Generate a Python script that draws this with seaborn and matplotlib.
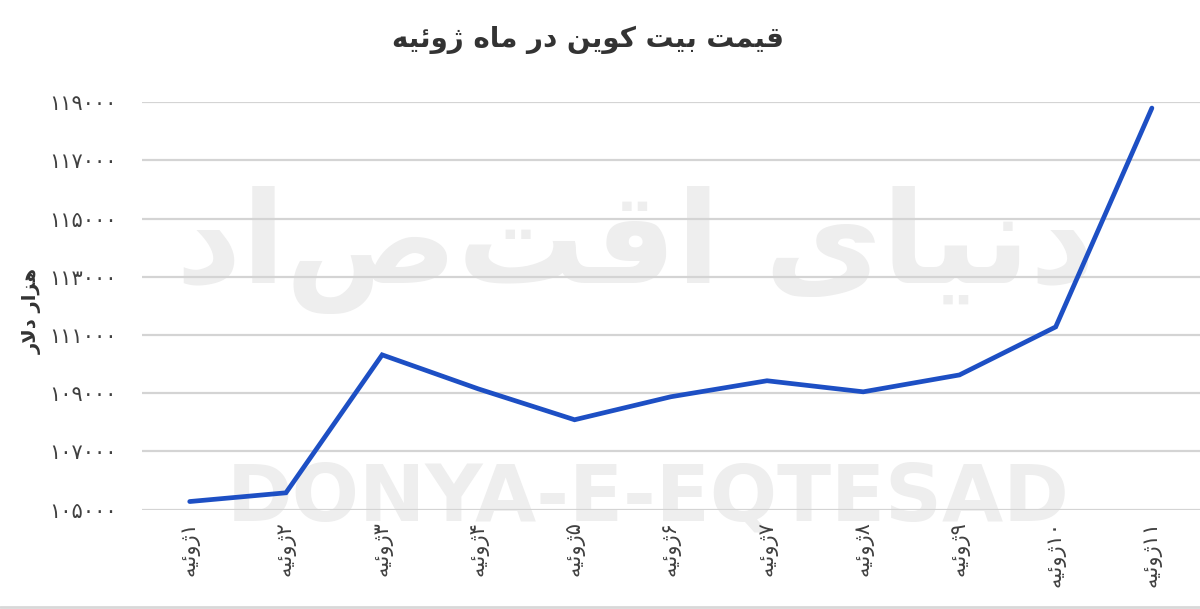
import re
import pandas as pd
import matplotlib
matplotlib.use("Agg")
import matplotlib.pyplot as plt
import seaborn as sns

# ================================================================
TITLE = "قیمت بیت کوین در ماه ژوئیه"
YLABEL = "هزار دلار"
MONTH = "ژوئیه"
WATERMARK_FA = "دنیای اقتصاد"
WATERMARK_EN = "DONYA-E-EQTESAD"

days = [1, 2, 3, 4, 5, 6, 7, 8, 9, 10, 11]
prices = [105280, 105580, 110320, 109150, 108090, 108880, 109430, 109050, 109630, 111280, 118800]
yticks = [105000, 107000, 109000, 111000, 113000, 115000, 117000, 119000]
# ================================================================

# Minimal Persian shaping (matplotlib has no bidi / joining support).
# char -> (isolated, final, initial, medial); right-joining letters have no initial/medial.
FORMS = {
    "ق": ("\ufed5", "\ufed6", "\ufed7", "\ufed8"),
    "ی": ("\ufbfc", "\ufbfd", "\ufbfe", "\ufbff"),
    "م": ("\ufee1", "\ufee2", "\ufee3", "\ufee4"),
    "ت": ("\ufe95", "\ufe96", "\ufe97", "\ufe98"),
    "ب": ("\ufe8f", "\ufe90", "\ufe91", "\ufe92"),
    "ک": ("\ufb8e", "\ufb8f", "\ufb90", "\ufb91"),
    "ن": ("\ufee5", "\ufee6", "\ufee7", "\ufee8"),
    "ه": ("\ufee9", "\ufeea", "\ufeeb", "\ufeec"),
    "ئ": ("\ufe89", "\ufe8a", "\ufe8b", "\ufe8c"),
    "ل": ("\ufedd", "\ufede", "\ufedf", "\ufee0"),
    "و": ("\ufeed", "\ufeee", None, None),
    "د": ("\ufea9", "\ufeaa", None, None),
    "ر": ("\ufead", "\ufeae", None, None),
    "ا": ("\ufe8d", "\ufe8e", None, None),
    "ژ": ("\ufb8a", "\ufb8b", None, None),
    "ز": ("\ufeaf", "\ufeb0", None, None),
}
FA_DIGITS = "۰۱۲۳۴۵۶۷۸۹"


def joins_left(c):
    return c in FORMS and FORMS[c][2] is not None


def shape(text):
    out = []
    i = 0
    while i < len(text):
        c = text[i]
        if c not in FORMS:
            out.append(c)
            i += 1
            continue
        prev = text[i - 1] if i > 0 else None
        nxt = text[i + 1] if i + 1 < len(text) else None
        jp = joins_left(prev)
        if c == "ل" and nxt == "ا":
            out.append("\ufefc" if jp else "\ufefb")
            i += 2
            continue
        jn = joins_left(c) and nxt in FORMS
        iso, fin, ini, med = FORMS[c]
        if jp and jn:
            out.append(med)
        elif jp:
            out.append(fin)
        elif jn:
            out.append(ini)
        else:
            out.append(iso)
        i += 1
    visual = "".join(out)[::-1]
    return re.sub(r"[۰-۹0-9]+", lambda m: m.group(0)[::-1], visual)


def fa_num(n):
    return "".join(FA_DIGITS[int(d)] for d in str(n))


labels = [shape(fa_num(d) + MONTH) for d in days]
df = pd.DataFrame({"day": labels, "price": prices})

sns.set_theme(style="white")
plt.rcParams["font.family"] = ["DejaVu Sans"]

fig = plt.figure(figsize=(12, 6.09), dpi=100)
ax = fig.add_axes([0.118, 0.1626, 0.882, 0.670])
ax.patch.set_alpha(0)

sns.lineplot(ax=ax, data=df, x="day", y="price", color="#1d4fc4", linewidth=3.4,
             solid_joinstyle="miter", zorder=5)

ax.set_xlim(-0.5, 10.5)
ax.set_ylim(104990, 119010)
ax.set_yticks(yticks)
ax.set_yticklabels([fa_num(v) for v in yticks], fontsize=15, color="#404040")
ax.tick_params(axis="x", labelrotation=90, labelsize=15, labelcolor="#404040", pad=8, length=0)
ax.tick_params(axis="y", pad=18, length=0)
for v in yticks:
    ax.axhline(v, color="#d4d4d4", linewidth=1.6, zorder=1)
for s in ax.spines.values():
    s.set_visible(False)
ax.set_xlabel("")
ax.set_ylabel("")

# Watermarks (behind the axes).
fig.text(0.54, 0.182, WATERMARK_EN, ha="center", va="center", fontsize=57, fontweight="bold",
         color="#eeeeee", zorder=-1)
fig.text(0.53, 0.59, shape(WATERMARK_FA), ha="center", va="center", fontsize=92, fontweight="bold",
         color="#eeeeee", zorder=-1)

# Titles.
fig.text(0.49, 0.935, shape(TITLE), ha="center", va="center", fontsize=20, fontweight="bold", color="#333333")
fig.text(0.027, 0.49, shape(YLABEL), ha="center", va="center", rotation=90, fontsize=14,
         fontweight="bold", color="#333333")

# Bottom border line.
fig.add_artist(plt.Line2D([0, 1], [0.004, 0.004], color="#d8d8d8", linewidth=2, transform=fig.transFigure))

fig.savefig("out.png", dpi=100)
